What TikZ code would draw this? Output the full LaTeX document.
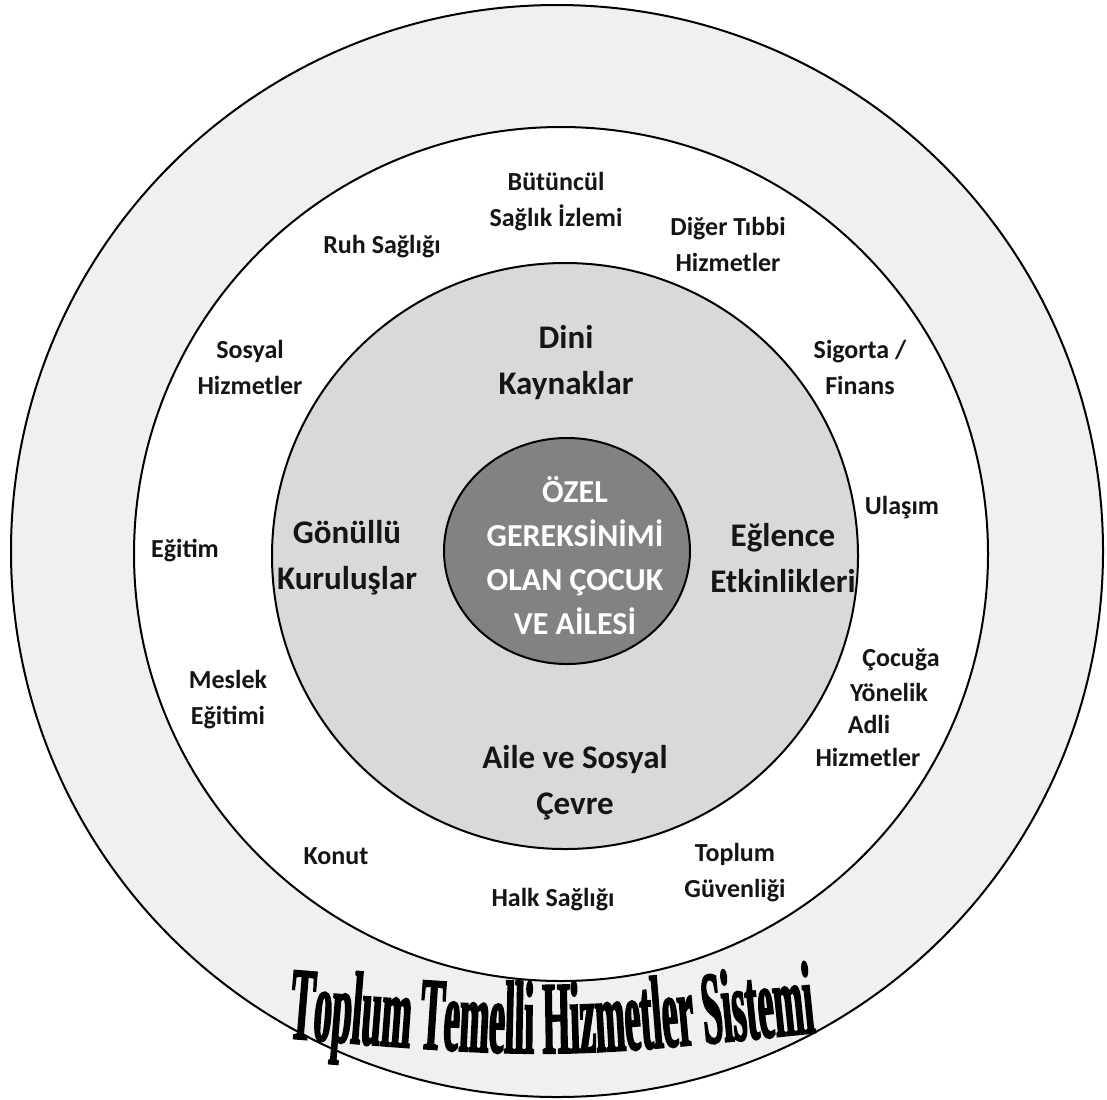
\documentclass[tikz,border=0pt]{standalone}
\usepackage{fontspec}
\setmainfont{Carlito}
\newfontfamily\archfont[FakeStretch=0.345, FakeBold=1.5]{Liberation Serif}
\usetikzlibrary{decorations.text}
\definecolor{outerring}{HTML}{F0F0F0}
\definecolor{midring}{HTML}{D9D9D9}
\definecolor{core}{HTML}{828282}
\definecolor{ink}{HTML}{151515}
\tikzset{
  ringline/.style={draw=black, line width=1pt},
  outerlabel/.style={text=ink, align=center, inner sep=0pt,
    font=\fontsize{13}{18}\selectfont\bfseries},
  midlabel/.style={text=ink, align=center, inner sep=0pt,
    font=\fontsize{16.5}{23}\selectfont\bfseries},
  corelabel/.style={text=white, align=center, inner sep=0pt,
    font=\fontsize{16}{22}\selectfont\bfseries},
}
\begin{document}
\begin{tikzpicture}[x=0.5pt, y=-0.5pt]
\useasboundingbox (0,0) rectangle (1107,1099);
\fill[white] (0,0) rectangle (1107,1099);

% concentric rings
\filldraw[ringline, fill=outerring] (557,551) circle [radius=546];
\filldraw[ringline, fill=white] (561,554) circle [radius=427];
\filldraw[ringline, fill=midring] (565,556) circle [radius=293];
\filldraw[ringline, fill=core] (567,551) ellipse [x radius=123, y radius=113];

% centre
\node[corelabel] (core) at (575,556) {ÖZEL\\GEREKSİNİMİ\\OLAN ÇOCUK\\VE AİLESİ};

% middle ring
\node[midlabel] (dini) at (566,363) {Dini\\Kaynaklar};
\node[midlabel] (gonullu) at (347,558) {Gönüllü\\Kuruluşlar};
\node[midlabel] (eglence) at (783,558) {Eğlence\\Etkinlikleri};
\node[midlabel] (aile) at (575,783) {Aile ve Sosyal\\Çevre};

% outer service ring
\node[outerlabel] (butuncul) at (556,202) {Bütüncül\\Sağlık İzlemi};
\node[outerlabel] (ruh) at (382,247) {Ruh Sağlığı};
\node[outerlabel] (diger) at (728,244) {Diğer Tıbbi\\Hizmetler};
\node[outerlabel] (sosyal) at (250,367) {Sosyal\\Hizmetler};
\node[outerlabel] (sigorta) at (860,367) {Sigorta /\\Finans};
\node[outerlabel] (ulasim) at (902,508) {Ulaşım};
\node[outerlabel] (egitim) at (185,551) {Eğitim};
\node[outerlabel] (meslek) at (228,700) {Meslek\\Eğitimi};
\node[outerlabel] (adli1) at (901,660) {Çocuğa};
\node[outerlabel] (adli2) at (889,692) {Yönelik};
\node[outerlabel] (adli3) at (869,724) {Adli};
\node[outerlabel] (adli4) at (868,757) {Hizmetler};
\node[outerlabel] (konut) at (336,856) {Konut};
\node[outerlabel] (halk) at (553,900) {Halk Sağlığı};
\node[outerlabel] (guvenlik) at (735,873) {Toplum\\Güvenliği};

% arched title
\path[decorate, decoration={text along path, text align=center,
  text={|\archfont\bfseries\fontsize{52}{52}\selectfont|Toplum Temelli Hizmetler Sistemi}}]
  (262,1036) .. controls (552,1060) .. (842,1030);
\end{tikzpicture}
\end{document}
